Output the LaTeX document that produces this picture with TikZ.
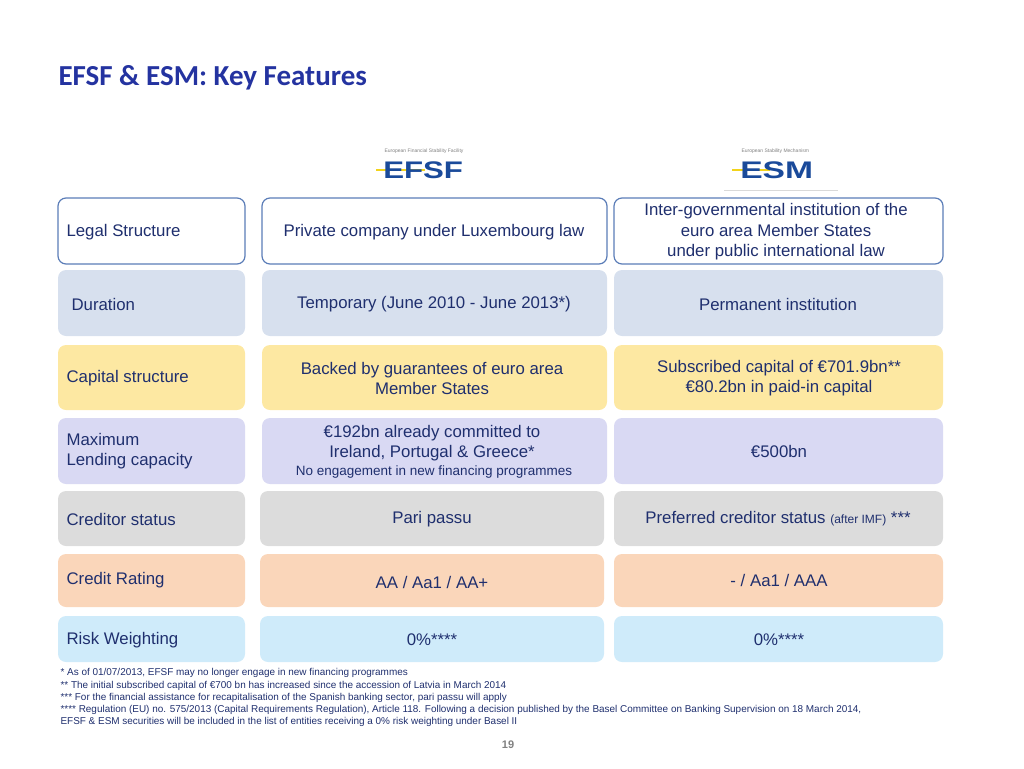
\documentclass[tikz,border=0pt]{standalone}
\usepackage{fontspec}
\setmainfont{Liberation Sans}
\newfontfamily\titlefont{Carlito}
\definecolor{navy}{HTML}{1F2F6E}
\definecolor{ttl}{HTML}{2433A0}
\definecolor{bdr}{HTML}{5B7DB8}
\definecolor{rowB}{HTML}{D7E0EE}
\definecolor{rowC}{HTML}{FDE8A2}
\definecolor{rowD}{HTML}{D9D9F3}
\definecolor{rowE}{HTML}{DCDCDC}
\definecolor{rowF}{HTML}{FAD6BA}
\definecolor{rowG}{HTML}{CFEBFA}
\definecolor{logob}{HTML}{1A4A9A}
\definecolor{logoy}{HTML}{F2D31B}
\begin{document}
\begin{tikzpicture}[x=1pt,y=-1pt,
  cell/.style={rounded corners=8pt},
  txt/.style={font=\fontsize{16.8}{20}\selectfont,text=navy,align=center},
  ltxt/.style={font=\fontsize{16.8}{20}\selectfont,text=navy,align=left,anchor=west},
  small/.style={font=\fontsize{13.5}{15}\selectfont,text=navy},
  fn/.style={font=\fontsize{9.95}{12}\selectfont,text=navy,anchor=west}]
\useasboundingbox (0,0) rectangle (1024,768);
\node[anchor=west,font=\titlefont\bfseries\fontsize{29}{32}\selectfont,text=ttl] (title) at (55,78) {EFSF \& ESM: Key Features};
% logos
\node[font=\fontsize{5}{6}\selectfont,text=gray,anchor=west] (l1t) at (381,151) {European Financial Stability Facility};
\draw[logoy,line width=2.5pt] (376,170) -- (425,170);
\node[font=\bfseries\fontsize{24}{24}\selectfont,text=logob,anchor=west,inner sep=0,xscale=1.3] (l1) at (383,170) {EFSF};
\node[font=\fontsize{5}{6}\selectfont,text=gray,anchor=west] (l2t) at (738,151) {European Stability Mechanism};
\draw[logoy,line width=2.5pt] (732,170) -- (770,170);
\node[font=\bfseries\fontsize{24}{24}\selectfont,text=logob,anchor=west,inner sep=0,xscale=1.4] (l2) at (740,170) {ESM};
\draw[gray!30] (724,190) -- (838,190);
% row 1
\draw[cell,bdr,line width=1.2pt,fill=white] (58,198) rectangle (245,264);
\draw[cell,bdr,line width=1.2pt,fill=white] (262,198) rectangle (607,264);
\draw[cell,bdr,line width=1.2pt,fill=white] (614,198) rectangle (943,264);
\node[ltxt] (a1) at (63,232) {Legal Structure};
\node[txt] (b1) at (434,232) {Private company under Luxembourg law};
\node[txt,font=\fontsize{16.8}{20.5}\selectfont] (c1) at (776,232) {Inter-governmental institution of the\\euro area Member States\\under public international law};
% row 2
\foreach \x/\X in {58/245,262/607,614/943} \fill[cell,rowB] (\x,270) rectangle (\X,336);
\node[ltxt] (a2) at (68,304) {Duration};
\node[txt] (b2) at (434,304) {Temporary (June 2010 - June 2013*)};
\node[txt] (c2) at (778,304) {Permanent institution};
% row 3
\foreach \x/\X in {58/245,262/607,614/943} \fill[cell,rowC] (\x,345) rectangle (\X,410);
\node[ltxt] (a3) at (63,378) {Capital structure};
\node[txt] (b3) at (432,378) {Backed by guarantees of euro area\\Member States};
\node[txt] (c3) at (779,378) {Subscribed capital of €701.9bn**\\€80.2bn in paid-in capital};
% row 4
\foreach \x/\X in {58/245,262/607,614/943} \fill[cell,rowD] (\x,418) rectangle (\X,484);
\node[ltxt] (a4) at (63,451) {Maximum\\Lending capacity};
\node[txt] (b4) at (432,443) {€192bn already committed to\\Ireland, Portugal \& Greece*};
\node[small] (b4s) at (434,472) {No engagement in new financing programmes};
\node[txt] (c4) at (779,451) {€500bn};
% row 5
\foreach \x/\X in {58/245,260/604,614/943} \fill[cell,rowE] (\x,491) rectangle (\X,546);
\node[ltxt] (a5) at (63,519) {Creditor status};
\node[txt] (b5) at (432,519) {Pari passu};
\node[txt] (c5) at (778,519) {Preferred creditor status {\fontsize{12}{12}\selectfont(after IMF)} ***};
% row 6
\foreach \x/\X in {58/245,260/604,614/943} \fill[cell,rowF] (\x,554) rectangle (\X,607);
\node[ltxt] (a6) at (63,580) {Credit Rating};
\node[txt] (b6) at (432,582) {AA / Aa1 / AA+};
\node[txt] (c6) at (779,580) {- / Aa1 / AAA};
% row 7
\foreach \x/\X in {58/245,260/604,614/943} \fill[cell,rowG] (\x,616) rectangle (\X,662);
\node[ltxt] (a7) at (63,640) {Risk Weighting};
\node[txt] (b7) at (432,640) {0\%****};
\node[txt] (c7) at (779,640) {0\%****};
% footnotes
\node[fn] (f1) at (57,673) {* As of 01/07/2013, EFSF may no longer engage in new financing programmes};
\node[fn] (f2) at (57,686) {** The initial subscribed capital of €700 bn has increased since the accession of Latvia in March 2014};
\node[fn] (f3) at (57,698) {*** For the financial assistance for recapitalisation of the Spanish banking sector, pari passu will apply};
\node[fn] (f4) at (57,710) {**** Regulation (EU) no. 575/2013 (Capital Requirements Regulation), Article 118. Following a decision published by the Basel Committee on Banking Supervision on 18 March 2014,};
\node[fn] (f5) at (57,722) {EFSF \& ESM securities will be included in the list of entities receiving a 0\% risk weighting under Basel II};
\node[font=\bfseries\fontsize{11}{12}\selectfont,text=gray] (pg) at (508,745) {19};
\end{tikzpicture}
\end{document}
